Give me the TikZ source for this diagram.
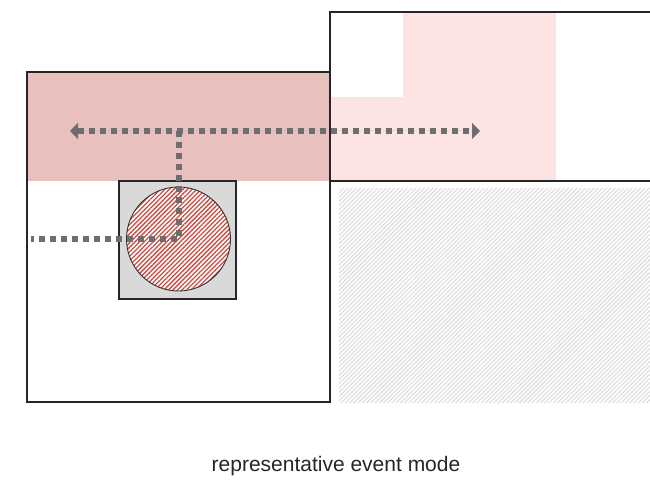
\documentclass[tikz,border=0pt]{standalone}
\usepackage{fontspec}
\setsansfont{Liberation Sans}
\usetikzlibrary{patterns.meta,arrows.meta}
\definecolor{bandpink}{HTML}{E8C1BF}
\definecolor{palepink}{HTML}{FDE4E4}
\definecolor{boxgray}{HTML}{D9D9D9}
\definecolor{dotgray}{HTML}{6E6E6E}
\definecolor{hatchred}{HTML}{CC4A40}
\definecolor{hatchgray}{HTML}{DCDCDC}
\begin{document}
\begin{tikzpicture}[x=1pt, y=-1pt,
        frame/.style={draw=black!85, line width=1.3pt},
        dotline/.style={draw=dotgray, line width=6pt, dash pattern=on 6pt off 5pt},
        >={Triangle[length=8pt, width=16pt]},
        every node/.style={inner sep=0pt, outer sep=0pt}]
      \useasboundingbox (0,0) rectangle (650,481);
      \fill[palepink] (330,97) -- (403,97) -- (403,12) -- (556,12) -- (556,181) -- (330,181) -- cycle;
      \draw[frame] (650,12) -- (330,12) -- (330,181) -- (650,181);
      \fill[bandpink] (27,72) rectangle (330,181);
      \draw[frame] (27,72) rectangle (330,402);
      \fill[pattern={Lines[angle=45, distance=3pt, line width=1.1pt]}, pattern color=hatchgray] (339,189) rectangle (650,402);
      \node[frame, line width=1.4pt, fill=boxgray, minimum width=117pt, minimum height=118pt] (cell) at (177.5,240) {};
      \node[circle, draw=black!80, line width=0.9pt, preaction={fill=white},
        pattern={Lines[angle=45, distance=3.2pt, line width=1.3pt]}, pattern color=hatchred, minimum size=104pt] (disc) at (178.5,239) {};
      \coordinate (lefttip) at (70,131);
      \coordinate (righttip) at (480,131);
      \coordinate (junction) at (178.5,131);
      \coordinate (wallend) at (31,239);
      \draw[dotline] (junction) -- (disc.center) -- (wallend);
      \draw[dotline, <->, fill=dotgray] (lefttip) -- (righttip);
      \node[font=\sffamily\fontsize{21}{25}\selectfont, text=black!85, anchor=base] (caption) at (336,471) {representative event mode};
    \end{tikzpicture}
\end{document}
